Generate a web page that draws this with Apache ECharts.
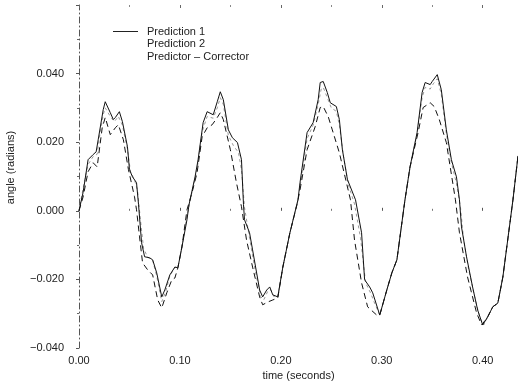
<!DOCTYPE html>
<html><head><meta charset="utf-8">
<script src="https://cdn.jsdelivr.net/npm/echarts@6/dist/echarts.min.js"></script>
<style>html,body{margin:0;padding:0;background:#fff}#c{width:518px;height:383px}</style>
</head><body><div id="c"></div>
<script>
// Prediction 1 (solid)
const p1T = [0,0.004,0.006,0.009,0.014,0.017,0.019,0.024,0.026,0.031,0.034,0.036,0.040,0.043,0.048,0.050,0.053,0.057,0.059,0.062,0.065,0.070,0.073,0.077,0.082,0.085,0.090,0.095,0.098,0.102,0.107,0.109,0.115,0.118,0.123,0.127,0.133,0.137,0.140,0.143,0.148,0.152,0.157,0.161,0.163,0.164,0.169,0.172,0.179,0.182,0.186,0.189,0.192,0.197,0.202,0.209,0.217,0.219,0.226,0.232,0.237,0.239,0.242,0.246,0.249,0.255,0.258,0.261,0.266,0.274,0.280,0.283,0.288,0.291,0.298,0.305,0.310,0.315,0.323,0.328,0.335,0.340,0.343,0.348,0.350,0.355,0.359,0.364,0.369,0.374,0.377,0.379,0.384,0.390,0.395,0.400,0.405,0.410,0.415,0.420,0.430,0.435];
const p1V = [0,0.0053,0.0091,0.0149,0.0164,0.0172,0.0207,0.0295,0.0318,0.0286,0.0266,0.0272,0.0289,0.0260,0.0187,0.0120,0.0099,0.0082,0.0018,-0.0093,-0.0134,-0.0137,-0.0143,-0.0181,-0.0251,-0.0231,-0.0187,-0.0164,-0.0166,-0.0105,-0.0026,0.0018,0.0099,0.0149,0.0257,0.0289,0.0280,0.0318,0.0347,0.0324,0.0236,0.0213,0.0199,0.0149,0.0018,-0.0026,-0.0064,-0.0114,-0.0231,-0.0251,-0.0231,-0.0222,-0.0245,-0.0251,-0.0164,-0.0064,0.0032,0.0082,0.0228,0.0257,0.0324,0.0374,0.0377,0.0345,0.0315,0.0304,0.0266,0.0178,0.0091,0.0032,-0.0064,-0.0201,-0.0222,-0.0239,-0.0304,-0.0231,-0.0181,-0.0143,0.0032,0.0128,0.0228,0.0345,0.0374,0.0368,0.0377,0.0397,0.0353,0.0236,0.0149,0.0099,0.0032,-0.0047,-0.0134,-0.0222,-0.0289,-0.0333,-0.0309,-0.0280,-0.0269,-0.0193,0.0032,0.0160];
// Prediction 2 (dashed)
const p2T = [0,0.004,0.009,0.014,0.018,0.023,0.026,0.031,0.036,0.039,0.044,0.049,0.055,0.057,0.060,0.063,0.068,0.073,0.078,0.082,0.087,0.092,0.095,0.098,0.102,0.107,0.112,0.117,0.122,0.127,0.132,0.137,0.140,0.143,0.150,0.156,0.161,0.166,0.172,0.179,0.182,0.187,0.192,0.197,0.202,0.209,0.216,0.219,0.226,0.234,0.239,0.242,0.247,0.251,0.258,0.265,0.269,0.273,0.280,0.286,0.295,0.298,0.305,0.310,0.315,0.323,0.328,0.336,0.341,0.348,0.352,0.357,0.364,0.373,0.377,0.385,0.394,0.399,0.405,0.410,0.415,0.420,0.430,0.435];
const p2V = [0,0.0040,0.0114,0.0140,0.0128,0.0242,0.0272,0.0222,0.0242,0.0251,0.0207,0.0120,0.0041,0.0003,-0.0076,-0.0152,-0.0172,-0.0187,-0.0260,-0.0283,-0.0239,-0.0201,-0.0196,-0.0166,-0.0105,0.0003,0.0053,0.0111,0.0216,0.0242,0.0251,0.0272,0.0286,0.0266,0.0178,0.0082,0.0012,-0.0085,-0.0164,-0.0251,-0.0274,-0.0266,-0.0260,-0.0254,-0.0164,-0.0064,0.0018,0.0061,0.0178,0.0245,0.0301,0.0304,0.0274,0.0236,0.0169,0.0082,0.0032,-0.0085,-0.0210,-0.0280,-0.0304,-0.0304,-0.0231,-0.0181,-0.0143,0.0032,0.0128,0.0228,0.0301,0.0315,0.0304,0.0266,0.0199,0.0032,-0.0064,-0.0193,-0.0298,-0.0333,-0.0309,-0.0280,-0.0269,-0.0193,0.0032,0.0160];
// Predictor - Corrector (grey)
const pcT = [0,0.005,0.009,0.014,0.018,0.020,0.024,0.026,0.031,0.035,0.039,0.043,0.048,0.051,0.055,0.058,0.061,0.064,0.068,0.073,0.077,0.082,0.086,0.090,0.095,0.098,0.102,0.107,0.112,0.117,0.122,0.127,0.133,0.137,0.140,0.143,0.148,0.153,0.158,0.161,0.164,0.169,0.175,0.180,0.183,0.187,0.190,0.193,0.197,0.202,0.209,0.217,0.220,0.226,0.232,0.237,0.240,0.242,0.246,0.250,0.255,0.258,0.262,0.267,0.273,0.279,0.284,0.289,0.293,0.298,0.305,0.310,0.315,0.323,0.328,0.335,0.340,0.343,0.348,0.351,0.355,0.359,0.364,0.369,0.374,0.378,0.381,0.386,0.392,0.397,0.401,0.405,0.410,0.415,0.420,0.430,0.435];
const pcV = [0,0.0080,0.0135,0.0158,0.0165,0.0210,0.0280,0.0300,0.0275,0.0260,0.0275,0.0250,0.0180,0.0115,0.0090,0.0060,-0.0030,-0.0110,-0.0135,-0.0145,-0.0190,-0.0265,-0.0235,-0.0190,-0.0165,-0.0165,-0.0105,-0.0015,0.0055,0.0120,0.0230,0.0275,0.0270,0.0300,0.0330,0.0310,0.0220,0.0190,0.0170,0.0120,0.0010,-0.0080,-0.0180,-0.0250,-0.0260,-0.0235,-0.0230,-0.0250,-0.0250,-0.0164,-0.0064,0.0032,0.0090,0.0210,0.0250,0.0310,0.0355,0.0360,0.0330,0.0300,0.0290,0.0250,0.0160,0.0075,0.0020,-0.0080,-0.0210,-0.0240,-0.0270,-0.0304,-0.0231,-0.0181,-0.0143,0.0032,0.0125,0.0225,0.0330,0.0360,0.0355,0.0370,0.0385,0.0340,0.0225,0.0140,0.0080,0.0010,-0.0080,-0.0170,-0.0250,-0.0310,-0.0333,-0.0310,-0.0280,-0.0270,-0.0193,0.0032,0.0160];

const seriesNames = ['Prediction 1','Prediction 2','Predictor \u2013 Corrector'];
const yTickLabels = {'-0.04':'\u22120.040','-0.02':'\u22120.020','0':'0.000','0.02':'0.020','0.04':'0.040'};
const xTickLabels = {'0':'0.00','0.1':'0.10','0.2':'0.20','0.3':'0.30','0.4':'0.40'};

const zip = (t, v) => t.map((x, i) => [x, v[i]]);
const font = 'Liberation Sans, Arial, sans-serif';
const txt = '#222';

const chart = echarts.init(document.getElementById('c'), null, {renderer: 'canvas'});
chart.setOption({
  animation: false,
  backgroundColor: '#fff',
  grid: {left: 79, right: 0, top: 5, bottom: 35, containLabel: false, outerBoundsMode: 'none'},
  legend: {
    orient: 'vertical', left: 112, top: 26, padding: 0, itemWidth: 25, itemHeight: 12, itemGap: 1.5,
    textStyle: {fontFamily: font, fontSize: 11, color: txt, padding: [0, 0, 0, 4]},
    data: [
      {name: seriesNames[0], icon: 'path://M0,0 L25,0 L25,1 L0,1 Z', itemStyle: {color: '#222'}},
      {name: seriesNames[1], itemStyle: {opacity: 0}, lineStyle: {opacity: 0}},
      {name: seriesNames[2], itemStyle: {opacity: 0}, lineStyle: {opacity: 0}}
    ]
  },
  xAxis: [{
    type: 'value', min: 0, max: 0.435, interval: 0.1,
    name: 'time (seconds)', nameLocation: 'middle', nameGap: 22,
    nameTextStyle: {fontFamily: font, fontSize: 11, color: txt},
    axisLine: {show: false},
    axisTick: {show: true, inside: true, length: 3, lineStyle: {color: '#555'}},
    minorTick: {show: true, splitNumber: 2, length: 2, lineStyle: {color: '#777'}},
    splitLine: {show: false},
    axisLabel: {fontFamily: font, fontSize: 11, color: txt, margin: 7,
      formatter: v => xTickLabels[String(+v.toFixed(2))] ?? ''}
  }, {
    type: 'value', position: 'top', min: 0, max: 0.435, interval: 0.1,
    axisLine: {show: false},
    axisTick: {show: true, inside: true, length: 3, lineStyle: {color: '#666'}},
    minorTick: {show: true, splitNumber: 2, length: 2, lineStyle: {color: '#888'}},
    splitLine: {show: false}, axisLabel: {show: false}
  }],
  yAxis: {
    type: 'value', min: -0.04, max: 0.06, interval: 0.02,
    name: 'angle (radians)', nameLocation: 'middle', nameGap: 63,
    nameTextStyle: {fontFamily: font, fontSize: 11, color: txt, padding: [0, 0, 0, 18]},
    axisLine: {show: true, lineStyle: {color: '#555', type: [6, 3, 1, 3], width: 1}},
    axisTick: {show: true, inside: false, length: 3, lineStyle: {color: '#555'}},
    minorTick: {show: true, splitNumber: 2, length: 2, lineStyle: {color: '#666'}},
    splitLine: {show: false},
    axisLabel: {fontFamily: font, fontSize: 11, color: txt, margin: 15,
      formatter: v => yTickLabels[String(+v.toFixed(2))] ?? ''}
  },
  series: [
    {name: seriesNames[0], type: 'line', data: zip(p1T, p1V), showSymbol: false, symbol: 'none',
      lineStyle: {color: '#111', width: 1}, itemStyle: {color: '#111'}, z: 3},
    {name: seriesNames[1], type: 'line', data: zip(p2T, p2V), showSymbol: false, symbol: 'none',
      lineStyle: {color: '#111', width: 1, type: [6, 4]}, itemStyle: {color: '#111'}, z: 2},
    {name: seriesNames[2], type: 'line', data: zip(pcT, pcV), showSymbol: false, symbol: 'none',
      lineStyle: {color: '#999', width: 1, type: [3, 3]}, itemStyle: {color: '#999'}, z: 1}
  ]
});
</script></body></html>
